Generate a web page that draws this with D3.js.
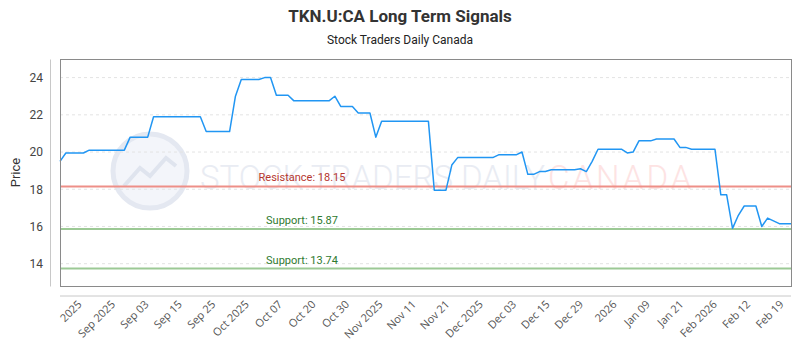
<!DOCTYPE html>
<html>
<head>
<meta charset="utf-8">
<script src="https://cdn.jsdelivr.net/npm/d3@7"></script>
<style>
  body { margin: 0; background: #fff; }
  #GraphHolder { width: 800px; height: 350px; }
</style>
</head>
<body>
<div id="GraphHolder"></div>
<script>
// daily closing prices (one per trading day)
var prices = [
    19.5,
    19.95, 19.95, 19.95, 19.95,
    20.1, 20.1, 20.1, 20.1, 20.1, 20.1, 20.1,
    20.8, 20.8, 20.8, 20.8,
    21.9, 21.9, 21.9, 21.9, 21.9, 21.9, 21.9, 21.9, 21.9,
    21.1, 21.1, 21.1, 21.1, 21.1,
    23.0,
    23.9, 23.9, 23.9, 23.9,
    24.0, 24.0,
    23.05, 23.05, 23.05,
    22.75, 22.75, 22.75, 22.75, 22.75, 22.75, 22.75,
    23.0,
    22.45, 22.45, 22.45,
    22.1, 22.1, 22.1,
    20.8,
    21.65, 21.65, 21.65, 21.65, 21.65, 21.65, 21.65, 21.65, 21.65,
    17.95, 17.95, 17.95,
    19.3,
    19.7, 19.7, 19.7, 19.7, 19.7, 19.7, 19.7,
    19.85, 19.85, 19.85, 19.85,
    20.0,
    18.8, 18.8,
    18.95, 18.95,
    19.05, 19.05, 19.05, 19.05, 19.05,
    19.1,
    18.95,
    19.5,
    20.15, 20.15, 20.15, 20.15, 20.15,
    19.95,
    20.0,
    20.6, 20.6, 20.6,
    20.7, 20.7, 20.7, 20.7,
    20.25, 20.25,
    20.15, 20.15, 20.15, 20.15, 20.15,
    17.7, 17.7,
    15.9,
    16.6,
    17.1, 17.1, 17.1,
    16.0,
    16.45,
    16.3,
    16.15, 16.15, 16.15
];

// x axis tick labels
var tickLabels = ["2025", "Sep 2025", "Sep 03", "Sep 15", "Sep 25", "Oct 2025",
    "Oct 07", "Oct 20", "Oct 30", "Nov 2025", "Nov 11", "Nov 21", "Dec 2025",
    "Dec 03", "Dec 15", "Dec 29", "2026", "Jan 09", "Jan 21", "Feb 2026",
    "Feb 12", "Feb 19"];

// y axis ticks
var yTicks = [14, 16, 18, 20, 22, 24];

// signal levels
var levelNames = ["Resistance", "Support", "Support"];
var levelValues = [18.15, 15.87, 13.74];

var W = 800, H = 350;
var plot = {left: 60, right: 791, top: 59, bottom: 286};

var svg = d3.select("#GraphHolder").append("svg")
    .attr("width", W)
    .attr("height", H)
    .style("font-family", "Roboto, 'Open Sans', sans-serif");

// scales
var x = d3.scaleLinear()
    .domain([0, prices.length - 1])
    .range([plot.left, plot.right]);
var y = d3.scaleLinear()
    .domain([12.8, 25.0])
    .range([plot.bottom, plot.top]);
var xLab = d3.scalePoint()
    .domain(tickLabels)
    .range([82, 784]);

// titles
svg.append("text")
    .attr("x", W / 2).attr("y", 22)
    .attr("text-anchor", "middle")
    .style("font-size", "17px").style("font-weight", "bold")
    .style("fill", "#333")
    .text("TKN.U:CA Long Term Signals");
svg.append("text")
    .attr("x", W / 2).attr("y", 44)
    .attr("text-anchor", "middle")
    .style("font-size", "12px")
    .style("fill", "#222")
    .text("Stock Traders Daily Canada");

// watermark
var wm = svg.append("g").attr("class", "watermark");
wm.append("circle")
    .attr("cx", 150).attr("cy", 171).attr("r", 37)
    .style("fill", "#f3f5fa").style("stroke", "#e4e8f1").style("stroke-width", 5);
wm.append("path")
    .attr("d", "M124,186 L140,168 L150,176 L166,158 L176,166")
    .style("fill", "none").style("stroke", "#dfe4ee").style("stroke-width", 4);
wm.append("text")
    .attr("x", 200).attr("y", 189)
    .style("font-size", "33px").style("font-weight", 300)
    .style("fill", "#e9ecf3")
    .text("STOCK TRADERS DAILY");
wm.append("text")
    .attr("x", 548).attr("y", 189)
    .style("font-size", "33px").style("font-weight", 300)
    .style("letter-spacing", "3px")
    .style("fill", "#fde3e3")
    .text("CANADA");

// grid lines
svg.append("g")
    .selectAll("line")
    .data(yTicks)
    .enter().append("line")
    .attr("x1", plot.left).attr("x2", plot.right)
    .attr("y1", function(d) { return y(d); })
    .attr("y2", function(d) { return y(d); })
    .style("stroke", "#e3e3e3")
    .style("stroke-dasharray", "3,3");

// y axis (offset to the left of the plot)
var yAxis = d3.axisLeft(y).tickValues(yTicks).tickSize(0).tickPadding(7);
var gy = svg.append("g")
    .attr("class", "yaxis")
    .attr("transform", "translate(50,0)")
    .call(yAxis);
gy.select(".domain").style("stroke", "#c8c8c8");
gy.selectAll("text").style("font-size", "12px").style("fill", "#444")
    .style("font-family", "Roboto, sans-serif");

svg.append("text")
    .attr("transform", "translate(20," + ((plot.top + plot.bottom) / 2) + ") rotate(-90)")
    .attr("text-anchor", "middle")
    .style("font-size", "13px")
    .style("fill", "#333")
    .text("Price");

// x axis (offset below the plot)
var xAxis = d3.axisBottom(xLab).tickSize(0).tickPadding(0);
var gx = svg.append("g")
    .attr("class", "xaxis")
    .attr("transform", "translate(0,296)")
    .call(xAxis);
gx.select(".domain")
    .attr("d", "M" + plot.left + ",0H" + plot.right)
    .style("stroke", "#c8c8c8");
gx.selectAll("text")
    .attr("y", 0).attr("dy", 0)
    .attr("transform", "translate(0,9) rotate(-45)")
    .style("text-anchor", "end")
    .style("font-size", "11px")
    .style("font-family", "'Open Sans', sans-serif")
    .style("fill", "#555");

// signal levels
var levels = levelValues.map(function(v, i) { return {name: levelNames[i], value: v}; });
var lv = svg.append("g").selectAll("g")
    .data(levels)
    .enter().append("g");
lv.append("line")
    .attr("x1", plot.left).attr("x2", plot.right)
    .attr("y1", function(d) { return y(d.value); })
    .attr("y2", function(d) { return y(d.value); })
    .style("stroke", function(d) { return d.name === "Resistance" ? "#ee8f88" : "#9cc995"; })
    .style("stroke-width", 2);
lv.append("text")
    .attr("x", 302)
    .attr("y", function(d) { return y(d.value) - 5; })
    .attr("text-anchor", "middle")
    .style("font-size", "11px")
    .style("fill", function(d) { return d.name === "Resistance" ? "#b5372f" : "#2f7a2f"; })
    .text(function(d) { return d.name + ": " + d.value.toFixed(2); });

// price line
var line = d3.line()
    .x(function(d, i) { return x(i); })
    .y(function(d) { return y(d); });
svg.append("path")
    .datum(prices)
    .attr("d", line)
    .style("fill", "none")
    .style("stroke", "#2196f3")
    .style("stroke-width", 1.5)
    .style("stroke-linejoin", "round");

// plot border
svg.append("rect")
    .attr("x", plot.left + 0.5).attr("y", plot.top + 0.5)
    .attr("width", plot.right - plot.left)
    .attr("height", plot.bottom - plot.top)
    .style("fill", "none")
    .style("stroke", "#8a8a8a");
</script>
</body>
</html>
